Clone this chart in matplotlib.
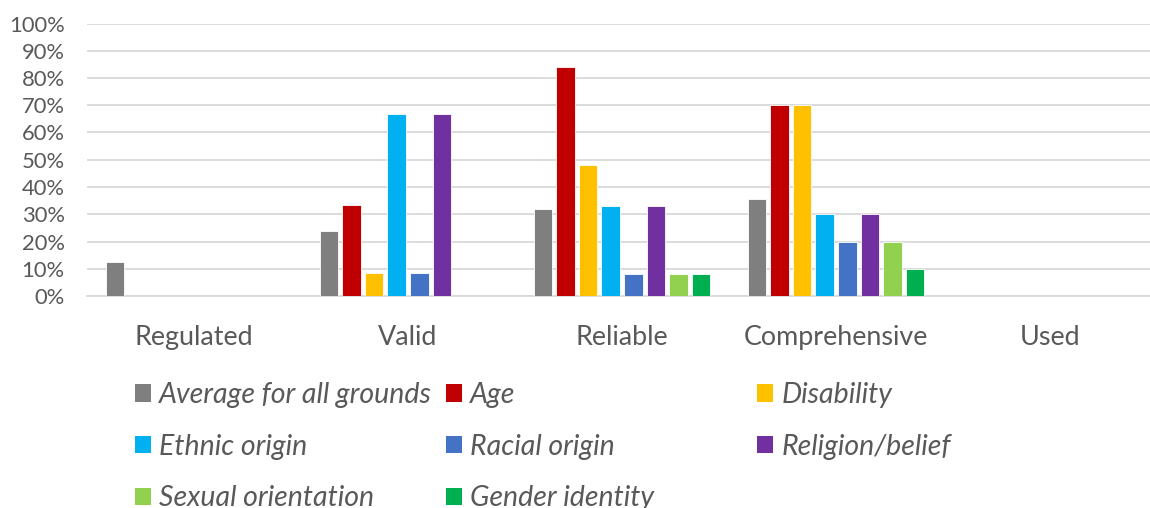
import numpy as np
import matplotlib.pyplot as plt
from matplotlib.patches import Patch
from matplotlib.ticker import PercentFormatter

plt.rcParams['font.family'] = ['Lato', 'DejaVu Sans']

categories = ['Regulated', 'Valid', 'Reliable', 'Comprehensive', 'Used']
series = ['Average for all grounds', 'Age', 'Disability', 'Ethnic origin',
          'Racial origin', 'Religion/belief', 'Sexual orientation', 'Gender identity']
colors = ['#7f7f7f', '#c00000', '#ffc000', '#00b0f0',
          '#4472c4', '#7030a0', '#92d050', '#00b050']

# share per category for each ground
average = [0.125, 0.24, 0.32, 0.355, 0.0]
age = [0.0, 0.333, 0.84, 0.70, 0.0]
disability = [0.0, 0.083, 0.48, 0.70, 0.0]
ethnic = [0.0, 0.667, 0.33, 0.30, 0.0]
racial = [0.0, 0.083, 0.08, 0.20, 0.0]
religion = [0.0, 0.667, 0.33, 0.30, 0.0]
sexual = [0.0, 0.0, 0.08, 0.20, 0.0]
gender = [0.0, 0.0, 0.08, 0.10, 0.0]
values = [average, age, disability, ethnic, racial, religion, sexual, gender]

txt = '#595959'
grid = '#d9d9d9'

fig = plt.figure(figsize=(11.5, 5.08), dpi=100)
ax = fig.add_axes([87 / 1150, 1 - 296 / 508, 1 - 87 / 1150, (296 - 23.5) / 508])

x = np.arange(len(categories))
slot = 0.1056
for i, (vals, col) in enumerate(zip(values, colors)):
    ax.bar(x + (i - 3.5) * slot, vals, width=slot * 0.82, color=col,
           edgecolor='white', linewidth=0.6, zorder=3)

ax.set_xlim(-0.5, 4.467)
ax.set_ylim(0, 1)
ax.set_yticks(np.arange(0, 1.01, 0.1))
ax.yaxis.set_major_formatter(PercentFormatter(1.0, decimals=0))
ax.set_xticks(x)
ax.set_xticklabels(categories)
ax.tick_params(axis='y', length=0, pad=16, labelsize=15.8, labelcolor=txt)
ax.tick_params(axis='x', length=0, pad=21, labelsize=19.4, labelcolor=txt)
ax.grid(axis='y', color=grid, linewidth=1.3, zorder=0)
for s in ['top', 'right', 'left']:
    ax.spines[s].set_visible(False)
ax.spines['bottom'].set_color(grid)
ax.spines['bottom'].set_linewidth(1.3)

# legend laid out row by row in three equal-width columns
handles = [Patch(facecolor=c, label=s) for s, c in zip(series, colors)]
col_x = [135 / 1150, 446 / 1150, 757 / 1150]
for j in range(3):
    hs = handles[j::3]
    fig.legend(handles=hs, loc='upper left', bbox_to_anchor=(col_x[j], 1 - 382 / 508),
               frameon=False, handlelength=0.55, handleheight=0.55, handletextpad=0.3,
               labelspacing=0.9, borderaxespad=0, borderpad=0,
               prop={'style': 'italic', 'size': 20.5}, labelcolor=txt)

fig.savefig('out.png', dpi=100)
